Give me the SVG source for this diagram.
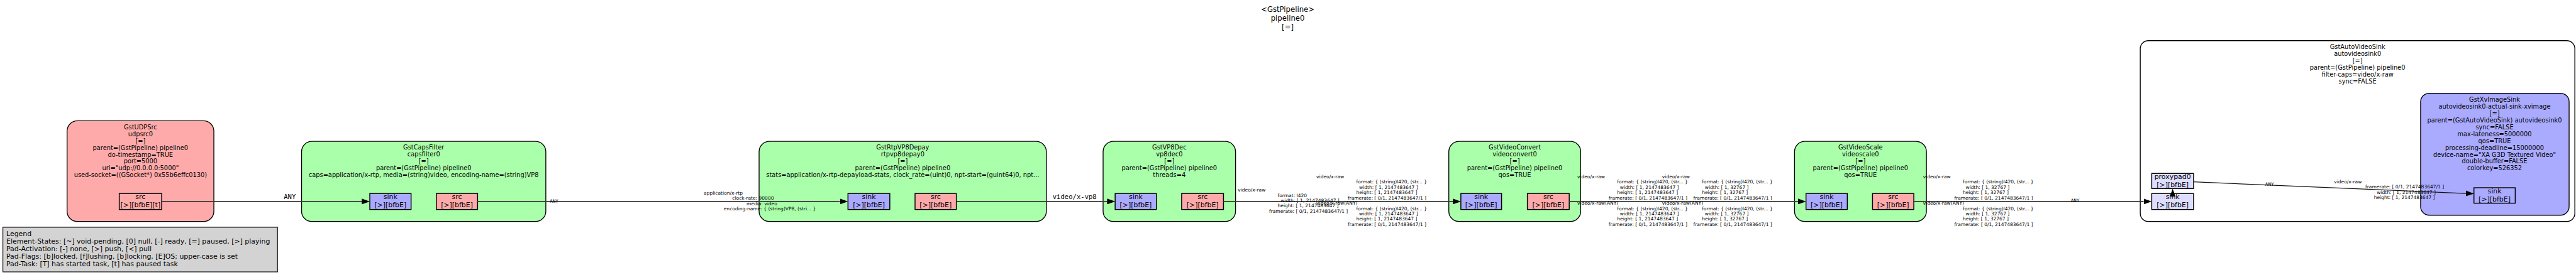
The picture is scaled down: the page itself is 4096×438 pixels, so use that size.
<svg xmlns="http://www.w3.org/2000/svg" width="4096" height="438" viewBox="0 0 4096 438">
<style>
text{font-family:"DejaVu Sans","Liberation Sans",sans-serif;fill:#000}
.t{font-size:12.8px;text-anchor:middle}
.el{font-size:10.8px;text-anchor:middle}
.pd{font-size:12px;text-anchor:middle}
.lg{font-size:12px}
.cap{font-family:"DejaVu Sans Mono","Liberation Mono",monospace;font-size:8.25px}
.lbl{font-family:"DejaVu Sans Mono","Liberation Mono",monospace;font-size:11.6px}
.green{fill:#aaffaa;stroke:#000;stroke-width:1.5}
.red{fill:#ffaaaa;stroke:#000;stroke-width:1.5}
.blue{fill:#aaaaff;stroke:#000;stroke-width:1.5}
.ghost{fill:#ddddff;stroke:#000;stroke-width:1.6}
.padr{fill:#ffaaaa;stroke:#000;stroke-width:1.6}
.padb{fill:#aaaaff;stroke:#000;stroke-width:1.6}
.edge{fill:none;stroke:#3a3a3a;stroke-width:1.8;marker-end:url(#arr)}
</style>
<defs>
<marker id="arr" viewBox="0 0 14 10" refX="0" refY="5" markerWidth="14" markerHeight="10" markerUnits="userSpaceOnUse" orient="auto">
<path d="M0,0 L14,5 L0,10 z" fill="#000"/>
</marker>
</defs>
<rect x="0" y="0" width="4096" height="438" fill="#fff"/>
<g transform="scale(0.91164)">
<g id="title">
<text class="t" x="2246" y="20.7">&lt;GstPipeline&gt;</text>
<text class="t" x="2246" y="35.9">pipeline0</text>
<text class="t" x="2246" y="51.1">[=]</text>
</g>
<g id="legend">
<rect x="5" y="397" width="479" height="78" fill="#d3d3d3" stroke="#222" stroke-width="1.5"/>
<text class="lg" x="11" y="412.3">Legend</text>
<text class="lg" x="11" y="425.6">Element-States: [~] void-pending, [0] null, [-] ready, [=] paused, [&gt;] playing</text>
<text class="lg" x="11" y="438.9">Pad-Activation: [-] none, [&gt;] push, [&lt;] pull</text>
<text class="lg" x="11" y="452.2">Pad-Flags: [b]locked, [f]lushing, [b]locking, [E]OS; upper-case is set</text>
<text class="lg" x="11" y="465.5">Pad-Task: [T] has started task, [t] has paused task</text>
</g>
<g id="udpsrc0">
<rect class="red" x="117" y="211" width="256" height="176" rx="18"/>
<text class="el" x="245" y="225.7">GstUDPSrc</text>
<text class="el" x="245" y="237.7">udpsrc0</text>
<text class="el" x="245" y="249.7">[=]</text>
<text class="el" x="245" y="261.7">parent=(GstPipeline) pipeline0</text>
<text class="el" x="245" y="273.7">do-timestamp=TRUE</text>
<text class="el" x="245" y="285.7">port=5000</text>
<text class="el" x="245" y="297.7">uri="udp://0.0.0.0:5000"</text>
<text class="el" x="245" y="309.7">used-socket=((GSocket*) 0x55b6effc0130)</text>
<rect class="padr" x="208" y="338" width="74" height="28"/>
<text class="pd" x="245" y="348">src</text>
<text class="pd" x="245" y="361.7">[&gt;][bfbE][t]</text>
</g>
<g id="capsfilter0">
<rect class="green" x="526" y="247" width="426" height="140" rx="18"/>
<text class="el" x="739" y="261.3">GstCapsFilter</text>
<text class="el" x="739" y="273.3">capsfilter0</text>
<text class="el" x="739" y="285.3">[=]</text>
<text class="el" x="739" y="297.3">parent=(GstPipeline) pipeline0</text>
<text class="el" x="739" y="309.3">caps=application/x-rtp, media=(string)video, encoding-name=(string)VP8</text>
<rect class="padb" x="645" y="338" width="72" height="28"/>
<text class="pd" x="681" y="348">sink</text>
<text class="pd" x="681" y="361.7">[&gt;][bfbE]</text>
<rect class="padr" x="761" y="338" width="72" height="28"/>
<text class="pd" x="797" y="348">src</text>
<text class="pd" x="797" y="361.7">[&gt;][bfbE]</text>
</g>
<g id="rtpvp8depay0">
<rect class="green" x="1324" y="247" width="501" height="140" rx="18"/>
<text class="el" x="1574.5" y="261.3">GstRtpVP8Depay</text>
<text class="el" x="1574.5" y="273.3">rtpvp8depay0</text>
<text class="el" x="1574.5" y="285.3">[=]</text>
<text class="el" x="1574.5" y="297.3">parent=(GstPipeline) pipeline0</text>
<text class="el" x="1574.5" y="309.3">stats=application/x-rtp-depayload-stats, clock_rate=(uint)0, npt-start=(guint64)0, npt...</text>
<rect class="padb" x="1479" y="338" width="73" height="28"/>
<text class="pd" x="1515.5" y="348">sink</text>
<text class="pd" x="1515.5" y="361.7">[&gt;][bfbE]</text>
<rect class="padr" x="1596" y="338" width="72" height="28"/>
<text class="pd" x="1632" y="348">src</text>
<text class="pd" x="1632" y="361.7">[&gt;][bfbE]</text>
</g>
<g id="vp8dec0">
<rect class="green" x="1924" y="247" width="231" height="140" rx="18"/>
<text class="el" x="2039.5" y="261.3">GstVP8Dec</text>
<text class="el" x="2039.5" y="273.3">vp8dec0</text>
<text class="el" x="2039.5" y="285.3">[=]</text>
<text class="el" x="2039.5" y="297.3">parent=(GstPipeline) pipeline0</text>
<text class="el" x="2039.5" y="309.3">threads=4</text>
<rect class="padb" x="1945" y="338" width="72" height="28"/>
<text class="pd" x="1981" y="348">sink</text>
<text class="pd" x="1981" y="361.7">[&gt;][bfbE]</text>
<rect class="padr" x="2061" y="338" width="73" height="28"/>
<text class="pd" x="2097.5" y="348">src</text>
<text class="pd" x="2097.5" y="361.7">[&gt;][bfbE]</text>
</g>
<g id="videoconvert0">
<rect class="green" x="2527" y="247" width="230" height="140" rx="18"/>
<text class="el" x="2642" y="261.3">GstVideoConvert</text>
<text class="el" x="2642" y="273.3">videoconvert0</text>
<text class="el" x="2642" y="285.3">[=]</text>
<text class="el" x="2642" y="297.3">parent=(GstPipeline) pipeline0</text>
<text class="el" x="2642" y="309.3">qos=TRUE</text>
<rect class="padb" x="2548" y="338" width="71" height="28"/>
<text class="pd" x="2583.5" y="348">sink</text>
<text class="pd" x="2583.5" y="361.7">[&gt;][bfbE]</text>
<rect class="padr" x="2664" y="338" width="73" height="28"/>
<text class="pd" x="2700.5" y="348">src</text>
<text class="pd" x="2700.5" y="361.7">[&gt;][bfbE]</text>
</g>
<g id="videoscale0">
<rect class="green" x="3130" y="247" width="230" height="140" rx="18"/>
<text class="el" x="3245" y="261.3">GstVideoScale</text>
<text class="el" x="3245" y="273.3">videoscale0</text>
<text class="el" x="3245" y="285.3">[=]</text>
<text class="el" x="3245" y="297.3">parent=(GstPipeline) pipeline0</text>
<text class="el" x="3245" y="309.3">qos=TRUE</text>
<rect class="padb" x="3150" y="338" width="72" height="28"/>
<text class="pd" x="3186" y="348">sink</text>
<text class="pd" x="3186" y="361.7">[&gt;][bfbE]</text>
<rect class="padr" x="3266" y="338" width="72" height="28"/>
<text class="pd" x="3302" y="348">src</text>
<text class="pd" x="3302" y="361.7">[&gt;][bfbE]</text>
</g>
<g id="autovideosink0">
<rect x="3733" y="71" width="758" height="316" rx="14" fill="#fff" stroke="#000" stroke-width="1.5"/>
<text class="el" x="4112" y="85.7">GstAutoVideoSink</text>
<text class="el" x="4112" y="97.7">autovideosink0</text>
<text class="el" x="4112" y="109.7">[=]</text>
<text class="el" x="4112" y="121.7">parent=(GstPipeline) pipeline0</text>
<text class="el" x="4112" y="133.7">filter-caps=video/x-raw</text>
<text class="el" x="4112" y="145.7">sync=FALSE</text>
<rect class="ghost" x="3753" y="303" width="73" height="26.5"/>
<text class="pd" x="3789.5" y="312.7">proxypad0</text>
<text class="pd" x="3789.5" y="326.7">[&gt;][bfbE]</text>
<rect class="ghost" x="3753" y="338" width="73" height="28"/>
<text class="pd" x="3789.5" y="348">sink</text>
<text class="pd" x="3789.5" y="361.7">[&gt;][bfbE]</text>
</g>
<g id="xvimagesink">
<rect class="blue" x="4222" y="163" width="259" height="213" rx="15"/>
<text class="el" x="4351" y="177.7">GstXvImageSink</text>
<text class="el" x="4351" y="189.7">autovideosink0-actual-sink-xvimage</text>
<text class="el" x="4351" y="201.7">[=]</text>
<text class="el" x="4351" y="213.7">parent=(GstAutoVideoSink) autovideosink0</text>
<text class="el" x="4351" y="225.7">sync=FALSE</text>
<text class="el" x="4351" y="237.7">max-lateness=5000000</text>
<text class="el" x="4351" y="249.7">qos=TRUE</text>
<text class="el" x="4351" y="261.7">processing-deadline=15000000</text>
<text class="el" x="4351" y="273.7">device-name="XA G3D Textured Video"</text>
<text class="el" x="4351" y="285.7">double-buffer=FALSE</text>
<text class="el" x="4351" y="297.7">colorkey=526352</text>
<rect class="padb" x="4315" y="328" width="72" height="27"/>
<text class="pd" x="4351" y="338">sink</text>
<text class="pd" x="4351" y="351.7">[&gt;][bfbE]</text>
</g>
<g id="connectors">
<path class="edge" d="M282,352 H631"/>
<path class="edge" d="M833,352 H1465"/>
<path class="edge" d="M1668,352 H1931"/>
<path class="edge" d="M2134,352 H2534"/>
<path class="edge" d="M2737,352 H3136"/>
<path class="edge" d="M3338,352 H3739"/>
<path class="edge" d="M3789.5,345 V343.5"/>
<path class="edge" d="M3826,317.7 L4301,337.9" style="stroke:#111;stroke-width:1.4"/>
<text class="lbl" x="495" y="348">ANY</text>
<text class="lbl" x="1836" y="348">video/x-vp8</text>
<text class="cap" x="959" y="354">ANY</text>
<text class="cap" x="3612" y="353.5">ANY</text>
<text class="cap" x="3951" y="324.5">ANY</text>
<g class="cap">
<text x="1227.5" y="339.7">application/x-rtp</text>
<text x="1277.2" y="348.95">clock-rate: 90000</text>
<text x="1302" y="358.2">media: video</text>
<text x="1262.3" y="367.45">encoding-name: { (string)VP8, (stri... }</text>
</g>
<g class="cap">
<text x="2159" y="334.7">video/x-raw</text>
<text x="2228.5" y="343.95">format: I420</text>
<text x="2233.5" y="353.2">width: [ 1, 2147483647 ]</text>
<text x="2228.5" y="362.45">height: [ 1, 2147483647 ]</text>
<text x="2213.6" y="371.7">framerate: [ 0/1, 2147483647/1 ]</text>
</g>
<g class="cap">
<text x="2296" y="311.5">video/x-raw</text>
<text x="2365.5" y="320.75">format: { (string)I420, (str... }</text>
<text x="2370.5" y="330">width: [ 1, 2147483647 ]</text>
<text x="2365.5" y="339.25">height: [ 1, 2147483647 ]</text>
<text x="2350.6" y="348.5">framerate: [ 0/1, 2147483647/1 ]</text>
<text x="2296" y="357.75">video/x-raw(ANY)</text>
<text x="2365.5" y="367">format: { (string)I420, (str... }</text>
<text x="2370.5" y="376.25">width: [ 1, 2147483647 ]</text>
<text x="2365.5" y="385.5">height: [ 1, 2147483647 ]</text>
<text x="2350.6" y="394.75">framerate: [ 0/1, 2147483647/1 ]</text>
</g>
<g class="cap">
<text x="2751" y="311.5">video/x-raw</text>
<text x="2820.5" y="320.75">format: { (string)I420, (str... }</text>
<text x="2825.5" y="330">width: [ 1, 2147483647 ]</text>
<text x="2820.5" y="339.25">height: [ 1, 2147483647 ]</text>
<text x="2805.6" y="348.5">framerate: [ 0/1, 2147483647/1 ]</text>
<text x="2751" y="357.75">video/x-raw(ANY)</text>
<text x="2820.5" y="367">format: { (string)I420, (str... }</text>
<text x="2825.5" y="376.25">width: [ 1, 2147483647 ]</text>
<text x="2820.5" y="385.5">height: [ 1, 2147483647 ]</text>
<text x="2805.6" y="394.75">framerate: [ 0/1, 2147483647/1 ]</text>
</g>
<g class="cap">
<text x="2899" y="311.5">video/x-raw</text>
<text x="2968.5" y="320.75">format: { (string)I420, (str... }</text>
<text x="2973.5" y="330">width: [ 1, 32767 ]</text>
<text x="2968.5" y="339.25">height: [ 1, 32767 ]</text>
<text x="2953.6" y="348.5">framerate: [ 0/1, 2147483647/1 ]</text>
<text x="2899" y="357.75">video/x-raw(ANY)</text>
<text x="2968.5" y="367">format: { (string)I420, (str... }</text>
<text x="2973.5" y="376.25">width: [ 1, 32767 ]</text>
<text x="2968.5" y="385.5">height: [ 1, 32767 ]</text>
<text x="2953.6" y="394.75">framerate: [ 0/1, 2147483647/1 ]</text>
</g>
<g class="cap">
<text x="3354" y="311.5">video/x-raw</text>
<text x="3423.5" y="320.75">format: { (string)I420, (str... }</text>
<text x="3428.5" y="330">width: [ 1, 32767 ]</text>
<text x="3423.5" y="339.25">height: [ 1, 32767 ]</text>
<text x="3408.6" y="348.5">framerate: [ 0/1, 2147483647/1 ]</text>
<text x="3354" y="357.75">video/x-raw(ANY)</text>
<text x="3423.5" y="367">format: { (string)I420, (str... }</text>
<text x="3428.5" y="376.25">width: [ 1, 32767 ]</text>
<text x="3423.5" y="385.5">height: [ 1, 32767 ]</text>
<text x="3408.6" y="394.75">framerate: [ 0/1, 2147483647/1 ]</text>
</g>
<g class="cap">
<text x="4071" y="320">video/x-raw</text>
<text x="4125.6" y="329.25">framerate: [ 0/1, 2147483647/1 ]</text>
<text x="4145.5" y="338.5">width: [ 1, 2147483647 ]</text>
<text x="4140.5" y="347.75">height: [ 1, 2147483647 ]</text>
</g>
</g>
</g>
</svg>
